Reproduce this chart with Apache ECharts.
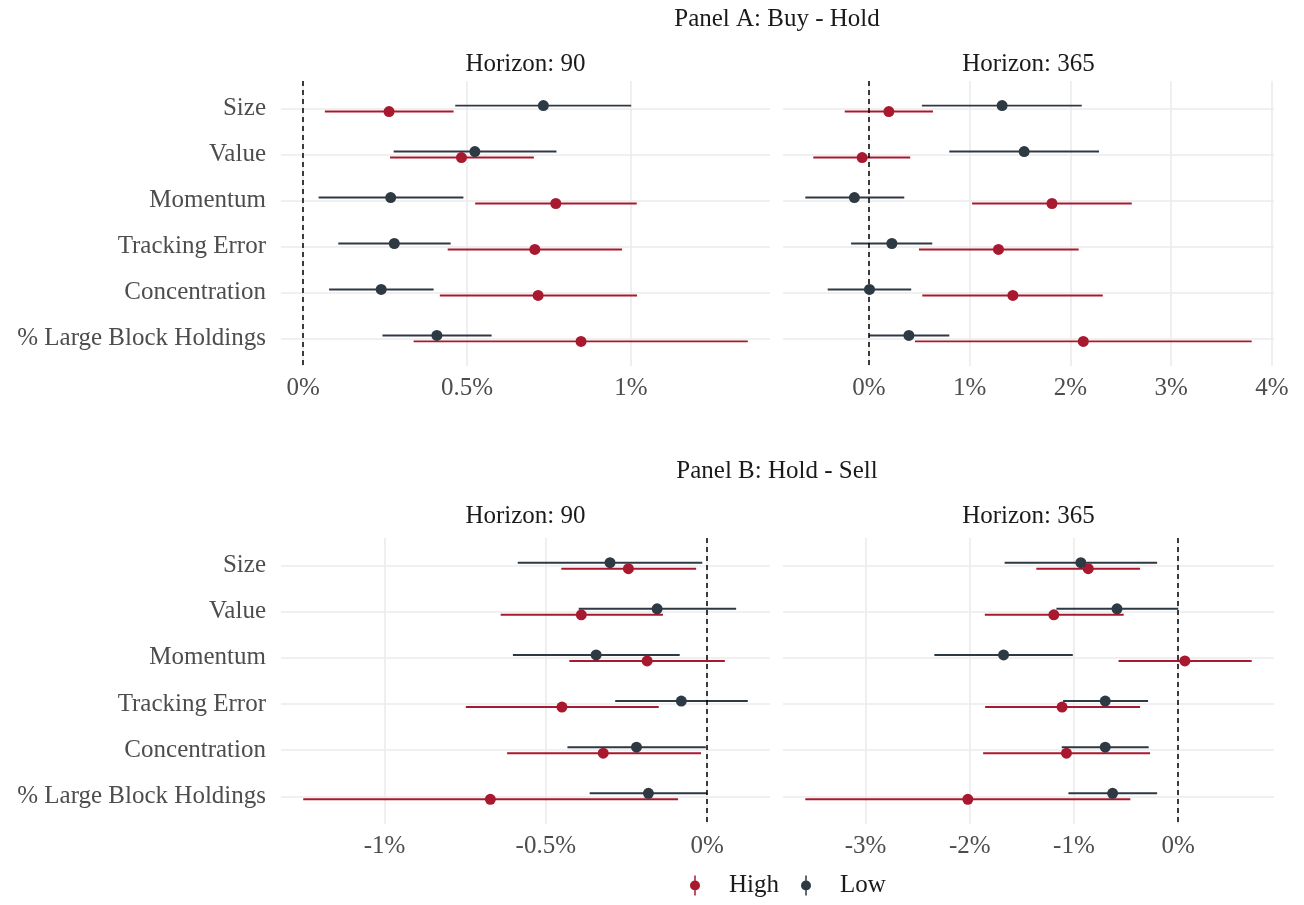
<!DOCTYPE html>
<html>
<head>
<meta charset="utf-8">
<script src="https://cdn.jsdelivr.net/npm/echarts@6/dist/echarts.min.js"></script>
<style>
  html, body { margin: 0; padding: 0; background: #ffffff; }
  #chart { width: 1304px; height: 905px; }
</style>
</head>
<body>
<div id="chart"></div>
<script>
// Factor categories, top to bottom
const categories = ['Size', 'Value', 'Momentum', 'Tracking Error', 'Concentration', '% Large Block Holdings'];

// Estimates in percent: [estimate, lower, upper] per category
// Panel A: Buy - Hold
const buyHold90High = [[0.262, 0.066, 0.459], [0.483, 0.265, 0.704], [0.771, 0.525, 1.018], [0.707, 0.441, 0.973], [0.717, 0.417, 1.019], [0.848, 0.337, 1.357]];
const buyHold90Low  = [[0.733, 0.464, 1.001], [0.524, 0.276, 0.773], [0.267, 0.047, 0.489], [0.278, 0.107, 0.450], [0.238, 0.079, 0.398], [0.408, 0.242, 0.575]];
const buyHold365High = [[0.199, -0.239, 0.637], [-0.066, -0.551, 0.411], [1.818, 1.025, 2.610], [1.287, 0.498, 2.083], [1.430, 0.531, 2.322], [2.129, 0.458, 3.800]];
const buyHold365Low  = [[1.323, 0.527, 2.113], [1.542, 0.799, 2.285], [-0.143, -0.630, 0.352], [0.229, -0.176, 0.630], [0.007, -0.408, 0.421], [0.398, 0.002, 0.799]];
// Panel B: Hold - Sell
const holdSell90High = [[-0.244, -0.452, -0.034], [-0.390, -0.640, -0.137], [-0.186, -0.427, 0.055], [-0.450, -0.748, -0.150], [-0.322, -0.620, -0.019], [-0.672, -1.252, -0.090]];
const holdSell90Low  = [[-0.301, -0.587, -0.015], [-0.155, -0.398, 0.090], [-0.344, -0.602, -0.085], [-0.080, -0.285, 0.126], [-0.219, -0.433, -0.004], [-0.182, -0.364, 0.000]];
const holdSell365High = [[-0.863, -1.361, -0.366], [-1.193, -1.855, -0.523], [0.064, -0.572, 0.705], [-1.114, -1.852, -0.366], [-1.072, -1.871, -0.270], [-2.018, -3.577, -0.459]];
const holdSell365Low  = [[-0.934, -1.665, -0.202], [-0.587, -1.168, 0.000], [-1.675, -2.339, -1.011], [-0.700, -1.104, -0.289], [-0.700, -1.117, -0.283], [-0.629, -1.053, -0.202]];

// Tick values (percent) for each facet
const buyHold90Ticks = [0, 0.5, 1];
const buyHold365Ticks = [0, 1, 2, 3, 4];
const holdSell90Ticks = [-1, -0.5, 0];
const holdSell365Ticks = [-3, -2, -1, 0];

const zeroLine = 0;

const FONT = '"Liberation Serif", "Times New Roman", serif';
const COLOR_HIGH = '#a8182f';
const COLOR_LOW = '#2d3943';
const GRID_COLOR = '#ebebeb';
const DODGE = 0.065;

const panels = [
  { high: buyHold90High,  low: buyHold90Low,  ticks: buyHold90Ticks,  left: 281, top: 81,  width: 489, height: 285, showY: true },
  { high: buyHold365High, low: buyHold365Low, ticks: buyHold365Ticks, left: 783, top: 81,  width: 491, height: 285, showY: false },
  { high: holdSell90High, low: holdSell90Low, ticks: holdSell90Ticks, left: 281, top: 538, width: 489, height: 286, showY: true },
  { high: holdSell365High,low: holdSell365Low,ticks: holdSell365Ticks,left: 783, top: 538, width: 491, height: 286, showY: false }
];

// x range: data extent (including the zero reference) expanded by 5% on each side
function xRange(p) {
  const vals = [zeroLine];
  p.high.concat(p.low).forEach(d => vals.push(d[1], d[2]));
  const lo = Math.min(...vals), hi = Math.max(...vals);
  const pad = (hi - lo) * 0.05;
  return [lo - pad, hi + pad];
}

const catIdx = categories.map((_, k) => k);
const grids = [], xAxes = [], yAxes = [], series = [];

function errorBarSeries(name, rows, offset, color, gi, withZero) {
  const s = {
    type: 'custom', name: name, xAxisIndex: gi, yAxisIndex: gi, z: 2,
    itemStyle: { color: color },
    encode: { x: [0, 1, 2], y: 3 },
    data: rows.map((d, k) => [d[0], d[1], d[2], k + offset]),
    renderItem: function (params, api) {
      const y = api.value(3);
      const a = api.coord([api.value(1), y]);
      const b = api.coord([api.value(2), y]);
      return { type: 'line', shape: { x1: a[0], y1: a[1], x2: b[0], y2: b[1] },
               style: { stroke: color, lineWidth: 1.9 } };
    }
  };
  if (withZero) {
    s.markLine = {
      silent: true, symbol: ['none', 'none'], label: { show: false },
      lineStyle: { type: [5, 4], color: '#000000', width: 1.5 },
      data: [{ xAxis: zeroLine }]
    };
  }
  return s;
}

function pointSeries(name, rows, offset, color, gi) {
  return {
    type: 'scatter', name: name, xAxisIndex: gi, yAxisIndex: gi, z: 5,
    symbol: 'circle', symbolSize: 11,
    itemStyle: { color: color, opacity: 1 },
    data: rows.map((d, k) => [d[0], k + offset])
  };
}

panels.forEach((p, gi) => {
  const r = xRange(p);
  grids.push({ left: p.left, top: p.top, width: p.width, height: p.height, containLabel: false, outerBoundsMode: 'none' });
  xAxes.push({
    gridIndex: gi, type: 'value', min: r[0], max: r[1],
    axisLine: { show: false },
    axisTick: { show: false, customValues: p.ticks },
    axisLabel: { customValues: p.ticks, formatter: v => v + '%', fontFamily: FONT, fontSize: 25, color: '#4d4d4d', margin: 10 },
    splitLine: { show: true, lineStyle: { color: GRID_COLOR, width: 1.6 } }
  });
  yAxes.push({
    gridIndex: gi, type: 'value', inverse: true, min: -0.6, max: 5.6,
    axisLine: { show: false },
    axisTick: { show: false, customValues: catIdx },
    axisLabel: { show: p.showY, customValues: catIdx, formatter: v => categories[Math.round(v)],
                 fontFamily: FONT, fontSize: 25, color: '#4d4d4d', margin: 15 },
    splitLine: { show: true, lineStyle: { color: GRID_COLOR, width: 1.6 } }
  });
  series.push(errorBarSeries('High', p.high, DODGE, COLOR_HIGH, gi, true));
  series.push(errorBarSeries('Low', p.low, -DODGE, COLOR_LOW, gi, false));
  series.push(pointSeries('High', p.high, DODGE, COLOR_HIGH, gi));
  series.push(pointSeries('Low', p.low, -DODGE, COLOR_LOW, gi));
});

function heading(text, x, y) {
  return { type: 'text', x: x, y: y, silent: true,
           style: { text: text, fontFamily: FONT, fontSize: 25, fill: '#1a1a1a', align: 'center', verticalAlign: 'middle' } };
}

// point-range key: vertical stroke through a dot
const keyIcon = 'path://M4.25,0H5.75V20H4.25Z M0,10A5,5 0 1 1 10,10A5,5 0 1 1 0,10Z';

const option = {
  animation: false,
  backgroundColor: '#ffffff',
  grid: grids,
  xAxis: xAxes,
  yAxis: yAxes,
  series: series,
  legend: {
    left: 690, top: 873, padding: 0, itemGap: 22, itemWidth: 14, itemHeight: 20,
    selectedMode: false,
    data: [{ name: 'High', icon: keyIcon }, { name: 'Low', icon: keyIcon }],
    textStyle: { fontFamily: FONT, fontSize: 25, color: '#1a1a1a', padding: [0, 0, 0, 22] }
  },
  graphic: [
    heading('Panel A: Buy - Hold', 777, 19),
    heading('Horizon: 90', 525.5, 64),
    heading('Horizon: 365', 1028.5, 64),
    heading('Panel B: Hold - Sell', 777, 471),
    heading('Horizon: 90', 525.5, 516),
    heading('Horizon: 365', 1028.5, 516)
  ]
};

const chart = echarts.init(document.getElementById('chart'), null, { renderer: 'canvas' });
chart.setOption(option);
</script>
</body>
</html>
